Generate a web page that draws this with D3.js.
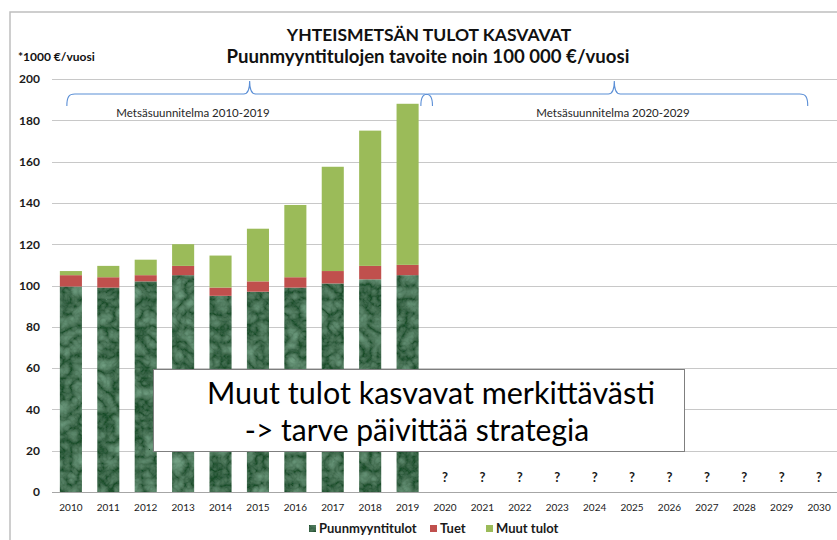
<!DOCTYPE html>
<html>
<head>
<meta charset="utf-8">
<script src="https://cdn.jsdelivr.net/npm/d3@7"></script>
<style>
  body { margin: 0; background: #fff; }
  text { font-family: Lato, "Open Sans", sans-serif; }
</style>
</head>
<body>
<div class="d3Chart"></div>
<script>
// vuodet ja sarjat
var years = ["2010", "2011", "2012", "2013", "2014", "2015", "2016", "2017", "2018", "2019",
  "2020", "2021", "2022", "2023", "2024", "2025", "2026", "2027", "2028", "2029", "2030"];
var puunmyynti = [99.5, 99, 102, 105, 95, 97, 99, 101, 103, 105];
var tuet = [5.5, 5, 3, 4.5, 4, 5, 5, 6, 6.5, 5];
var muut = [2, 5.5, 7.5, 10.5, 15.5, 25.5, 35, 50.5, 65.5, 78];
var seriesNames = ["Puunmyyntitulot", "Tuet", "Muut tulot"];
var seriesColors = ["url(#metsa)", "#c0504d", "#9bbb59"];
var yTicks = [0, 20, 40, 60, 80, 100, 120, 140, 160, 180, 200];
var plans = [
  { label: "Metsäsuunnitelma 2010-2019", from: "2010", to: "2019" },
  { label: "Metsäsuunnitelma 2020-2029", from: "2020", to: "2029" },
];

var width = 837;
var height = 540;

var svg = d3
  .select(".d3Chart")
  .append("svg")
  .attr("width", width)
  .attr("height", height);

// tumman vihreä tekstuuri
var defs = svg.append("defs");
var filt = defs.append("filter").attr("id", "kuvio").attr("x", 0).attr("y", 0).attr("width", 1).attr("height", 1);
filt.append("feTurbulence")
  .attr("type", "turbulence")
  .attr("baseFrequency", "0.07")
  .attr("numOctaves", 3)
  .attr("seed", 7)
  .attr("result", "t");
filt.append("feColorMatrix")
  .attr("in", "t")
  .attr("type", "matrix")
  .attr("values", "0 0 0 0 0.27  0 0 0 0 0.53  0 0 0 0 0.36  0.75 0 0 0 -0.03")
  .attr("result", "c");
filt.append("feComposite").attr("in", "c").attr("in2", "SourceGraphic").attr("operator", "in").attr("result", "m");
var merge = filt.append("feMerge");
merge.append("feMergeNode").attr("in", "SourceGraphic");
merge.append("feMergeNode").attr("in", "m");

var pat = defs.append("pattern")
  .attr("id", "metsa")
  .attr("patternUnits", "userSpaceOnUse")
  .attr("width", width)
  .attr("height", height);
pat.append("rect")
  .attr("width", width)
  .attr("height", height)
  .attr("fill", "#1a4d2c")
  .attr("filter", "url(#kuvio)");

// reunus
svg.append("path")
  .attr("d", "M10,540 V12 H837")
  .attr("fill", "none")
  .attr("stroke", "#bfbfbf")
  .attr("stroke-width", 1.5);

// asteikot
var x = d3.scaleBand().domain(years).range([52, 838]).paddingInner(0.41).paddingOuter(0.21);
var y = d3.scaleLinear().domain([0, 200]).range([492, 79]);

// ruudukko
svg.append("g")
  .selectAll("line")
  .data(yTicks)
  .enter()
  .append("line")
  .attr("x1", 52)
  .attr("x2", 837)
  .attr("y1", (d) => Math.round(y(d)) + 0.5)
  .attr("y2", (d) => Math.round(y(d)) + 0.5)
  .attr("stroke", (d) => (d === 0 ? "#a6a6a6" : "#c8c8c8"))
  .attr("stroke-width", 1.2);

// y-akseli
var yAxis = svg.append("g")
  .attr("transform", "translate(52,0)")
  .call(d3.axisLeft(y).tickValues(yTicks).tickSize(0).tickPadding(12));
yAxis.select(".domain").remove();
yAxis.selectAll("text")
  .attr("font-size", 12)
  .attr("font-weight", "bold")
  .attr("fill", "#1a1a1a");

// x-akseli
var xAxis = svg.append("g")
  .attr("transform", "translate(0,492)")
  .call(d3.axisBottom(x).tickSize(0).tickPadding(12));
xAxis.select(".domain").remove();
xAxis.selectAll("text")
  .attr("font-size", 10)
  .attr("fill", "#1a1a1a");

// pinotut pylväät
var rows = puunmyynti.map((v, i) => ({
  year: years[i],
  Puunmyyntitulot: v,
  Tuet: tuet[i],
  "Muut tulot": muut[i],
}));
var stacked = d3.stack().keys(seriesNames)(rows);

svg.append("g")
  .selectAll("g")
  .data(stacked)
  .enter()
  .append("g")
  .attr("fill", (d, i) => seriesColors[i])
  .selectAll("rect")
  .data((d) => d)
  .enter()
  .append("rect")
  .attr("x", (d) => x(d.data.year))
  .attr("width", x.bandwidth())
  .attr("y", (d) => y(d[1]))
  .attr("height", (d) => y(d[0]) - y(d[1]));

// kysymysmerkit tuleville vuosille
svg.append("g")
  .selectAll("text")
  .data(years.slice(puunmyynti.length))
  .enter()
  .append("text")
  .attr("x", (d) => x(d) + x.bandwidth() / 2)
  .attr("y", 482)
  .attr("text-anchor", "middle")
  .attr("font-size", 13)
  .attr("font-weight", "bold")
  .attr("fill", "#1a1a1a")
  .text("?");

// aaltosulkeet
function bracePath(x0, x1) {
  var tip = (x0 + x1) / 2;
  var yb = 106, ym = 94, yt = 81;
  return `M${x0},${yb} C${x0},${ym + 3} ${x0 + 2},${ym} ${x0 + 8},${ym}` +
    ` H${tip - 6} C${tip - 2},${ym} ${tip},${ym - 3} ${tip},${yt}` +
    ` C${tip},${ym - 3} ${tip + 2},${ym} ${tip + 6},${ym}` +
    ` H${x1 - 8} C${x1 - 2},${ym} ${x1},${ym + 3} ${x1},${yb}`;
}
var step = x.step();
var braceX = [
  [x("2010") + 7, x("2019") + x.bandwidth() + 0.45 * step - 3],
  [x("2020") - 0.35 * step, x("2029") + x.bandwidth() + 15],
];
var textX = [193, 613];

var braces = svg.append("g")
  .selectAll("g")
  .data(plans)
  .enter()
  .append("g");
braces.append("path")
  .attr("d", (d, i) => bracePath(braceX[i][0], braceX[i][1]))
  .attr("fill", "none")
  .attr("stroke", "#5b8fd6")
  .attr("stroke-width", 1.1);
braces.append("text")
  .attr("x", (d, i) => textX[i])
  .attr("y", 117)
  .attr("text-anchor", "middle")
  .attr("font-size", 11.5)
  .attr("fill", "#262626")
  .text((d) => d.label);

// otsikko
svg.append("text")
  .attr("x", 429)
  .attr("y", 41)
  .attr("text-anchor", "middle")
  .attr("font-size", 17.5)
  .attr("font-weight", "bold")
  .attr("fill", "#111")
  .text("YHTEISMETSÄN TULOT KASVAVAT");
svg.append("text")
  .attr("x", 428)
  .attr("y", 63)
  .attr("text-anchor", "middle")
  .attr("font-size", 18.6)
  .attr("font-weight", "bold")
  .attr("fill", "#111")
  .text("Puunmyyntitulojen tavoite noin 100 000 €/vuosi");
svg.append("text")
  .attr("x", 18)
  .attr("y", 61)
  .attr("font-size", 12)
  .attr("font-weight", "bold")
  .attr("fill", "#111")
  .text("*1000 €/vuosi");

// tekstilaatikko
var box = svg.append("g");
box.append("rect")
  .attr("x", 153.5)
  .attr("y", 369.5)
  .attr("width", 531)
  .attr("height", 82)
  .attr("fill", "#fff")
  .attr("stroke", "#7f7f7f")
  .attr("stroke-width", 1);
box.append("text")
  .attr("x", 431)
  .attr("y", 404)
  .attr("text-anchor", "middle")
  .attr("font-size", 30.5)
  .attr("fill", "#000")
  .text("Muut tulot kasvavat merkittävästi");
box.append("text")
  .attr("x", 417)
  .attr("y", 441)
  .attr("text-anchor", "middle")
  .attr("font-size", 30)
  .attr("fill", "#000")
  .text("-> tarve päivittää strategia");

// selite
var legendX = [309, 430, 486];
var legend = svg.append("g")
  .selectAll("g")
  .data(seriesNames)
  .enter()
  .append("g")
  .attr("transform", (d, i) => `translate(${legendX[i]},525)`);
legend.append("rect")
  .attr("width", 7)
  .attr("height", 7)
  .attr("fill", (d, i) => seriesColors[i]);
legend.append("text")
  .attr("x", 10)
  .attr("y", 8)
  .attr("font-size", 13)
  .attr("font-weight", "bold")
  .attr("fill", "#1a1a1a")
  .text((d) => d);
</script>
</body>
</html>
